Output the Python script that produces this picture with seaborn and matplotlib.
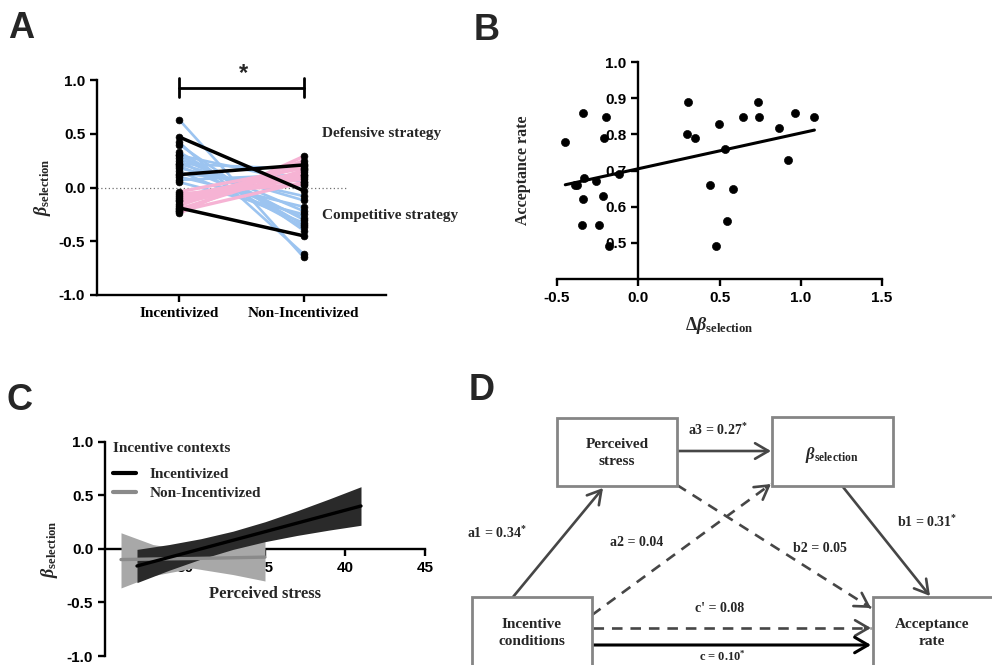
import numpy as np
import pandas as pd
import matplotlib
matplotlib.use('Agg')
import matplotlib.pyplot as plt
import seaborn as sns
from matplotlib.patches import Rectangle
from matplotlib.lines import Line2D

sns.set_theme(style='ticks')
plt.rcParams['font.family'] = ['Liberation Sans', 'DejaVu Sans']
plt.rcParams['axes.unicode_minus'] = False
plt.rcParams['mathtext.fontset'] = 'custom'
plt.rcParams['mathtext.rm'] = 'Liberation Serif:bold'
plt.rcParams['mathtext.it'] = 'Liberation Serif:italic:bold'
plt.rcParams['mathtext.bf'] = 'Liberation Serif:bold'

# ---------------- Panel A data ----------------
conditions = ['Incentivized', 'Non-Incentivized']
blue_pre = [0.63, 0.42, 0.40, 0.33, 0.30, 0.27, 0.25, 0.22, 0.20, 0.18, 0.15, 0.13, 0.10, 0.07, 0.05, 0.22, 0.30]
blue_post = [-0.65, -0.62, -0.40, -0.35, -0.30, -0.22, -0.37, -0.12, -0.28, -0.08, -0.33, 0.02, -0.18, 0.12, -0.25, 0.17, 0.05]
pink_pre = [-0.24, -0.22, -0.20, -0.17, -0.15, -0.12, -0.10, -0.08, -0.06, -0.04, -0.22, -0.13]
pink_post = [0.29, 0.22, 0.16, 0.25, 0.12, 0.20, 0.08, 0.14, 0.03, 0.18, 0.05, 0.10]
black_pre = [0.47, 0.12, -0.19]
black_post = [-0.03, 0.21, -0.45]

# ---------------- Panel B data ----------------
delta_beta = [-0.449, -0.339, -0.198, -0.210, -0.39, -0.378, -0.333, -0.261, -0.118, -0.339,
              -0.22, -0.347, -0.241, -0.18, 0.306, 0.298, 0.347, 0.498, 0.535, 0.439,
              0.586, 0.549, 0.476, 0.647, 0.735, 0.745, 0.865, 0.922, 0.963, 1.084]
acceptance = [0.778, 0.858, 0.848, 0.790, 0.66, 0.66, 0.679, 0.67, 0.69, 0.62,
              0.629, 0.55, 0.55, 0.49, 0.889, 0.80, 0.79, 0.828, 0.759, 0.66,
              0.65, 0.56, 0.49, 0.848, 0.889, 0.848, 0.818, 0.729, 0.858, 0.848]

# ---------------- Panel C data ----------------
contexts = ['Incentivized', 'Non-Incentivized']
inc_stress = [27, 29, 31, 33, 35, 37, 39, 41]
inc_fit = [-0.16, -0.08, 0.0, 0.08, 0.16, 0.24, 0.32, 0.40]
inc_low = [-0.315, -0.20, -0.095, -0.005, 0.067, 0.125, 0.175, 0.22]
inc_high = [-0.005, 0.04, 0.095, 0.165, 0.253, 0.355, 0.465, 0.58]
non_stress = [26, 28, 30.5, 33, 35]
non_fit = [-0.10, -0.095, -0.09, -0.083, -0.077]
non_low = [-0.365, -0.25, -0.18, -0.24, -0.30]
non_high = [0.15, 0.04, -0.02, 0.02, 0.078]

# ---------------- Panel D data ----------------
path_labels = {'a1': 'a1 = 0.34$^{*}$', 'a2': 'a2 = 0.04', 'a3': 'a3 = 0.27$^{*}$',
               'b1': 'b1 = 0.31$^{*}$', 'b2': 'b2 = 0.05', 'cp': "c' = 0.08", 'c': 'c = 0.10$^{*}$'}

W, H = 992, 665
fig = plt.figure(figsize=(W / 100, H / 100), dpi=100)

def px_axes(l, t, r, b, **kw):
    return fig.add_axes([l / W, 1 - b / H, (r - l) / W, (b - t) / H], **kw)

SERIF = dict(family='Liberation Serif', weight='bold')
TICKFONT = dict(family='Liberation Sans', weight='bold', size=11)

def style_axes(ax):
    for s in ['top', 'right']:
        ax.spines[s].set_visible(False)
    for s in ['left', 'bottom']:
        ax.spines[s].set_linewidth(1.7)
        ax.spines[s].set_color('black')
    ax.tick_params(width=1.7, length=5, color='black', labelcolor='black')

def fmt_ticks(ax, axis, vals, labels, font=None):
    font = font or TICKFONT
    if axis == 'x':
        ax.set_xticks(vals)
        ax.set_xticklabels(labels, **font)
    else:
        ax.set_yticks(vals)
        ax.set_yticklabels(labels, **font)

# ================= Panel A =================
axA = px_axes(97, 80, 386, 295)
rows = []
sid = 0
for grp, pre, post in [('blue', blue_pre, blue_post), ('pink', pink_pre, pink_post), ('black', black_pre, black_post)]:
    for a, b in zip(pre, post):
        rows.append(dict(subject=sid, group=grp, cond=0, value=a))
        rows.append(dict(subject=sid, group=grp, cond=1, value=b))
        sid += 1
dfA = pd.DataFrame(rows)
axA.hlines(0, -0.66, 1.34, colors='#707070', linestyles=(0, (1, 2)), lw=0.9, zorder=1)
sns.lineplot(data=dfA[dfA.group == 'blue'], x='cond', y='value', units='subject', estimator=None,
             color='#9cc4f0', lw=1.9, ax=axA, legend=False, zorder=2)
sns.lineplot(data=dfA[dfA.group == 'pink'], x='cond', y='value', units='subject', estimator=None,
             color='#f6b3d4', lw=2.4, ax=axA, legend=False, zorder=3)
sns.lineplot(data=dfA[dfA.group == 'black'], x='cond', y='value', units='subject', estimator=None,
             color='black', lw=2.5, ax=axA, legend=False, zorder=4)
sns.scatterplot(data=dfA, x='cond', y='value', color='black', s=24, edgecolor='black', linewidth=0.5,
                ax=axA, legend=False, zorder=5)
axA.set_xlim(-0.66, 1.66)
axA.set_ylim(-1.0, 1.0)
style_axes(axA)
fmt_ticks(axA, 'x', [0, 1], conditions, font=dict(SERIF, size=11))
fmt_ticks(axA, 'y', [-1.0, -0.5, 0.0, 0.5, 1.0], ['-1.0', '-0.5', '0.0', '0.5', '1.0'])
axA.set_xlabel('')
axA.set_ylabel('')
axA.text(-0.187, 0.5, r'$\beta_{\mathrm{selection}}$', transform=axA.transAxes, rotation=90,
         ha='center', va='center', fontsize=13)
# significance bracket
axA.plot([0, 1], [0.926, 0.926], color='black', lw=2, clip_on=False)
axA.plot([0, 0], [0.84, 1.02], color='black', lw=2, clip_on=False)
axA.plot([1, 1], [0.84, 1.02], color='black', lw=2, clip_on=False)
axA.text(0.52, 1.06, '*', ha='center', va='center', fontsize=17, fontweight='bold', clip_on=False)
axA.text(1.15, 0.5, 'Defensive strategy', ha='left', va='center', fontsize=11, **SERIF)
axA.text(1.15, -0.256, 'Competitive strategy', ha='left', va='center', fontsize=11, **SERIF)

# ================= Panel B =================
axB = px_axes(557, 62, 882, 279)
sns.regplot(x=delta_beta, y=acceptance, scatter=False, ci=None, truncate=True, color='black',
            line_kws=dict(lw=2.2), ax=axB)
sns.scatterplot(x=delta_beta, y=acceptance, color='black', s=34, edgecolor='black', ax=axB, zorder=5)
axB.set_xlim(-0.5, 1.5)
axB.set_ylim(0.4, 1.0)
style_axes(axB)
axB.spines['left'].set_position(('data', 0))
fmt_ticks(axB, 'x', [-0.5, 0.0, 0.5, 1.0, 1.5], ['-0.5', '0.0', '0.5', '1.0', '1.5'])
fmt_ticks(axB, 'y', [0.5, 0.6, 0.7, 0.8, 0.9, 1.0], ['0.5', '0.6', '0.7', '0.8', '0.9', '1.0'])
axB.text(-0.105, 0.5, 'Acceptance rate', transform=axB.transAxes, rotation=90,
         ha='center', va='center', fontsize=11.5, **SERIF)
axB.text(0.5, -0.215, r'$\Delta\beta_{\mathrm{selection}}$', transform=axB.transAxes,
         ha='center', va='center', fontsize=13)

# ================= Panel C =================
axC = px_axes(105, 441.7, 425, 656)
axC.set_axisbelow(True)
axC.fill_between(non_stress, non_low, non_high, color='#a8a8a8', lw=0, zorder=1)
axC.fill_between(inc_stress, inc_low, inc_high, color='#2a2a2a', lw=0, zorder=1.5)
sns.lineplot(x=non_stress, y=non_fit, color='#8a8a8a', lw=2.4, ax=axC, zorder=3, label=contexts[1])
sns.lineplot(x=inc_stress, y=inc_fit, color='black', lw=2.4, ax=axC, zorder=4, label=contexts[0])
axC.set_xlim(25, 45)
axC.set_ylim(-1.0, 1.0)
style_axes(axC)
for s in ['left', 'bottom']:
    axC.spines[s].set_zorder(0.5)
axC.spines['bottom'].set_position(('data', 0))
fmt_ticks(axC, 'x', [30, 35, 40, 45], ['30', '35', '40', '45'])
fmt_ticks(axC, 'y', [-1.0, -0.5, 0.0, 0.5, 1.0], ['-1.0', '-0.5', '0.0', '0.5', '1.0'])
axC.text(-0.172, 0.5, r'$\beta_{\mathrm{selection}}$', transform=axC.transAxes, rotation=90,
         ha='center', va='center', fontsize=13)
axC.text(0.5, 0.288, 'Perceived stress', transform=axC.transAxes, ha='center', va='center',
         fontsize=12, **SERIF)
handles = [Line2D([0], [0], color='black', lw=3), Line2D([0], [0], color='#8a8a8a', lw=3)]
leg = axC.legend(handles, contexts, title='Incentive contexts', loc='upper left',
                 bbox_to_anchor=(0.025, 0.998), frameon=False, borderpad=0, borderaxespad=0,
                 handlelength=1.5, handletextpad=0.9, labelspacing=0.35,
                 prop=dict(family='Liberation Serif', weight='bold', size=11),
                 title_fontproperties=dict(family='Liberation Serif', weight='bold', size=11),
                 alignment='left')
leg._legend_box.sep = 9

# ================= Panel D (path diagram) =================
axD = fig.add_axes([0, 0, 1, 1])
axD.set_xlim(0, W)
axD.set_ylim(H, 0)
axD.axis('off')
axD.patch.set_visible(False)

BOX_EC = '#858585'
boxes = {
    'ps': (557, 418, 677, 486),
    'bs': (772, 417, 893, 486),
    'ic': (472, 597, 592, 675),
    'ar': (873, 597, 1000, 675),
}
for (l, t, r, b) in boxes.values():
    axD.add_patch(Rectangle((l, t), r - l, b - t, facecolor='white', edgecolor=BOX_EC, lw=2.0, zorder=2))

axD.text(617, 453, 'Perceived\nstress', ha='center', va='center', fontsize=11, linespacing=1.45, zorder=3, **SERIF)
axD.text(832, 455, r'$\beta_{\mathrm{selection}}$', ha='center', va='center', fontsize=12, zorder=3)
axD.text(532, 633, 'Incentive\nconditions', ha='center', va='center', fontsize=11, linespacing=1.45, zorder=3, **SERIF)
axD.text(932, 633, 'Acceptance\nrate', ha='center', va='center', fontsize=11, linespacing=1.45, zorder=3, **SERIF)

ARROW_C = '#464646'

def arrow(p0, p1, dashed=False, color=ARROW_C, lw=1.9):
    p0 = np.array(p0, float)
    p1 = np.array(p1, float)
    if dashed:
        axD.plot([p0[0], p1[0]], [p0[1], p1[1]], color=color, lw=lw, linestyle=(0, (4, 3)),
                 solid_capstyle='butt', zorder=1)
        d = (p1 - p0) / np.linalg.norm(p1 - p0)
        start = p1 - d * 6
    else:
        start = p0
    axD.annotate('', xy=tuple(p1), xytext=tuple(start),
                 arrowprops=dict(arrowstyle='->,head_length=0.6,head_width=0.35', color=color, lw=lw,
                                 shrinkA=0, shrinkB=0, mutation_scale=16), zorder=1)

arrow((677, 451), (771, 451))
arrow((513, 597), (603, 488))
arrow((843, 487), (930, 596))
arrow((592, 615), (771, 484), dashed=True)
arrow((677, 485), (871, 608), dashed=True)
arrow((593, 628), (871, 628), dashed=True)
arrow((593, 645), (871, 645), color='black', lw=2.2)

lab = dict(ha='center', va='center', fontsize=10, **SERIF)
axD.text(718, 430, path_labels['a3'], **lab)
axD.text(497, 533, path_labels['a1'], **lab)
axD.text(637, 542, path_labels['a2'], **lab)
axD.text(820, 548, path_labels['b2'], **lab)
axD.text(927, 522, path_labels['b1'], **lab)
axD.text(720, 609, path_labels['cp'], **lab)
axD.text(722, 664, path_labels['c'], ha='center', va='bottom', fontsize=9, **SERIF)

# Panel letters
for letter, x, y in [('A', 8, 28), ('B', 474, 30), ('C', 7, 401), ('D', 469, 390)]:
    axD.text(x, y, letter, ha='left', va='center', fontsize=26, fontweight='bold',
             family='Liberation Sans')

fig.savefig('out.png', dpi=100)
